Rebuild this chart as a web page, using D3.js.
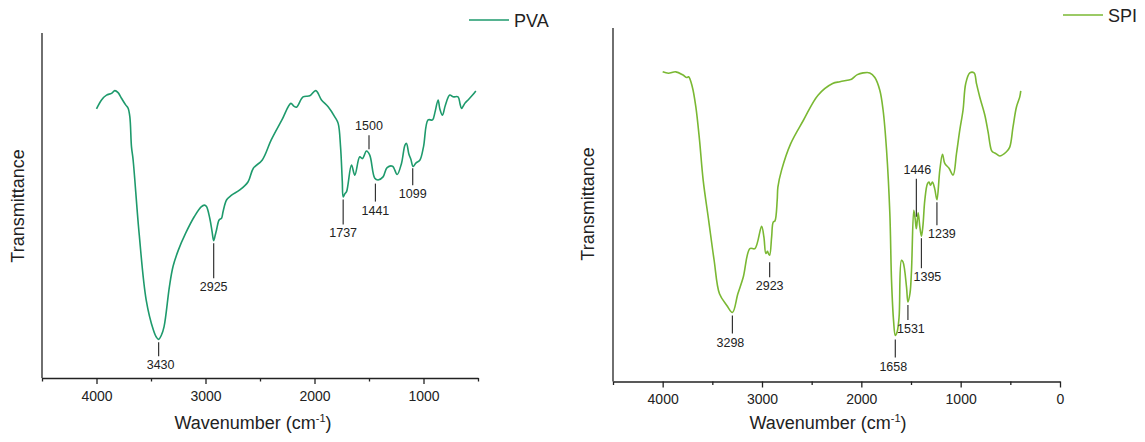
<!DOCTYPE html>
<html>
<head>
<meta charset="utf-8">
<script src="https://cdn.jsdelivr.net/npm/d3@7"></script>
<style>
  body { margin: 0; background: #fff; }
  svg { display: block; font-family: "Liberation Sans", Arial, sans-serif; }
</style>
</head>
<body>
<svg id="chart" width="1145" height="442"></svg>
<script>
// spectra: [wavenumber cm-1, transmittance (arbitrary %)]
var pvaData = [
  [4000,78.0],[3954,80.6],[3908,82.0],[3862,82.5],[3832,83.3],[3802,82.7],[3771,81.1],
  [3731,79.1],[3710,78.2],[3694,75.7],[3679,67.0],[3664,63.2],[3609,41.9],[3544,22.6],
  [3478,13.9],[3450,11.8],[3430,11.2],[3405,12.4],[3380,14.9],[3331,26.5],[3298,32.3],
  [3250,37.0],[3183,41.9],[3102,46.8],[3040,49.6],[3010,50.1],[2991,49.7],[2961,46.3],
  [2940,42.5],[2925,39.8],[2910,41.5],[2899,42.9],[2875,45.8],[2853,46.3],[2839,48.2],
  [2807,51.6],[2761,53.0],[2685,54.5],[2609,56.9],[2561,60.8],[2479,63.2],[2397,69.0],
  [2299,74.8],[2217,79.6],[2190,78.8],[2165,78.5],[2105,81.5],[2043,81.8],[1988,83.3],
  [1936,80.6],[1875,78.6],[1814,75.7],[1783,73.8],[1761,67.0],[1745,57.0],[1737,52.5],
  [1720,53.5],[1706,54.0],[1661,61.7],[1630,58.8],[1585,64.1],[1560,63.6],[1523,65.8],
  [1493,64.6],[1447,57.9],[1417,57.4],[1371,58.3],[1334,61.0],[1284,61.4],[1242,59.0],
  [1202,62.2],[1170,67.5],[1156,68.0],[1135,65.0],[1116,63.4],[1095,61.3],[1070,62.3],
  [1034,63.1],[1000,67.0],[958,74.8],[917,74.8],[895,77.0],[866,80.6],[850,78.0],
  [826,76.2],[800,79.0],[759,82.0],[728,81.5],[683,81.5],[665,79.5],[651,78.1],
  [621,79.6],[591,80.6],[550,82.0],[520,83.2]
];

var spiData = [
  [4000,87.6],[3942,87.2],[3868,87.6],[3795,86.7],[3758,86.0],[3739,86.2],[3702,83.4],
  [3666,77.7],[3629,68.3],[3592,56.9],[3537,45.6],[3482,34.3],[3428,24.8],[3354,21.5],
  [3298,19.5],[3243,24.8],[3189,29.5],[3122,37.6],[3071,37.6],[3004,43.9],[2981,40.9],
  [2961,36.2],[2945,36.8],[2938,36.4],[2923,35.7],[2903,40.9],[2887,45.1],[2870,45.4],
  [2847,51.3],[2840,55.0],[2803,59.8],[2711,67.3],[2583,73.9],[2436,81.0],[2289,84.3],
  [2216,84.8],[2124,85.3],[2099,85.5],[2040,86.8],[1982,87.3],[1915,87.3],[1864,86.0],
  [1814,82.4],[1781,76.8],[1746,65.4],[1713,47.5],[1696,28.6],[1675,17.0],[1658,13.0],
  [1640,14.0],[1620,18.2],[1596,34.3],[1580,33.8],[1545,26.7],[1531,22.5],[1510,25.0],
  [1495,31.4],[1472,48.4],[1458,46.0],[1446,43.2],[1428,47.7],[1410,43.5],[1395,41.1],
  [1380,44.0],[1361,51.3],[1334,56.0],[1318,56.4],[1304,55.5],[1284,56.4],[1261,54.5],
  [1239,51.4],[1210,59.8],[1183,64.3],[1160,61.7],[1117,60.3],[1076,58.4],[1042,64.5],
  [1009,71.1],[976,76.8],[949,84.3],[908,87.3],[865,87.3],[841,84.3],[808,80.5],
  [757,75.4],[724,70.6],[690,65.4],[670,64.8],[647,64.5],[607,63.8],[539,65.0],
  [506,66.3],[473,72.0],[439,77.6],[405,80.5],[395,82.2]
];

// labelled bands: [label, side]
var pvaPeaks = [["3430","below"],["2925","below"],["1737","below"],["1500","above"],["1441","below"],["1099","below"]];
var spiPeaks = [["3298","below"],["2923","below"],["1658","below"],["1531","below"],["1446","above"],["1395","below"],["1239","below"]];

var leftMajor = [4000,3000,2000,1000];
var leftMinor = [4500,3500,2500,1500,500];
var rightMajor = [4000,3000,2000,1000,0];
var rightMinor = [4500,3500,2500,1500,500];

// tick-line gap / length / label nudge for each annotation
var annLayout = {
  "3430": {gap:3, len:14, dx:2},  "2925": {gap:2.5, len:35, dx:0},
  "1737": {gap:2.5, len:25, dx:0}, "1500": {gap:5, len:14, dx:0},
  "1441": {gap:5, len:18, dx:0},  "1099": {gap:3, len:17, dx:0},
  "3298": {gap:3, len:18, dx:-2}, "2923": {gap:7, len:15, dx:0},
  "1658": {gap:4, len:18, dx:-2}, "1531": {gap:3, len:15, dx:3},
  "1446": {gap:12, len:38, dx:1}, "1395": {gap:2, len:30, dx:6},
  "1239": {gap:2.5, len:23, dx:5}
};

var svg = d3.select("#chart");

function valueAt(data, wn) {
  for (var i = 0; i < data.length - 1; i++) {
    var a = data[i], b = data[i+1];
    if (wn <= a[0] && wn >= b[0]) {
      var t = (a[0] - wn) / (a[0] - b[0]);
      return a[1] + t * (b[1] - a[1]);
    }
  }
  return data[data.length-1][1];
}

function drawPanel(cfg) {
  var x = d3.scaleLinear().domain(cfg.xDomain).range([cfg.x0, cfg.x1]);
  var y = d3.scaleLinear().domain([0, 100]).range([cfg.yBottom, cfg.yTop]);
  var g = svg.append("g");

  // y axis: bare line
  g.append("line")
    .attr("x1", cfg.x0).attr("x2", cfg.x0)
    .attr("y1", cfg.yTop).attr("y2", cfg.yBottom)
    .style("stroke", "#222").style("stroke-width", 1.3);

  var major = d3.axisBottom(x).tickValues(cfg.major).tickSize(6).tickSizeOuter(0)
    .tickPadding(7).tickFormat(d3.format("d"));
  var ax = g.append("g").attr("transform", "translate(0," + cfg.yBottom + ")").call(major);
  ax.select(".domain").style("stroke", "#222").style("stroke-width", 1.3);
  ax.selectAll(".tick line").style("stroke", "#222").style("stroke-width", 1.3);
  ax.selectAll(".tick text").style("font-size", "14px").style("fill", "#222")
    .style("font-family", "'Liberation Sans', Arial, sans-serif");

  var minor = d3.axisBottom(x).tickValues(cfg.minor).tickSize(3.5).tickSizeOuter(0).tickFormat("");
  var mx = g.append("g").attr("transform", "translate(0," + cfg.yBottom + ")").call(minor);
  mx.select(".domain").remove();
  mx.selectAll(".tick line").style("stroke", "#222").style("stroke-width", 1.3);

  // spectrum
  var line = d3.line().x(function(d){ return x(d[0]); }).y(function(d){ return y(d[1]); })
    .curve(d3.curveCatmullRom.alpha(0.5));
  g.append("path").datum(cfg.data)
    .attr("d", line)
    .style("fill", "none").style("stroke", cfg.color).style("stroke-width", 1.6);

  // band annotations
  cfg.peaks.forEach(function(p) {
    var wn = +p[0], L = annLayout[p[0]];
    var cx = x(wn), cy = y(valueAt(cfg.data, wn));
    var y1, y2, ty;
    if (p[1] == "below") {
      y1 = cy + L.gap; y2 = y1 + L.len; ty = y2 + 13;
    } else {
      y2 = cy - L.gap; y1 = y2 - L.len; ty = y1 - 5;
    }
    g.append("line").attr("x1", cx).attr("x2", cx).attr("y1", y1).attr("y2", y2)
      .style("stroke", "#333").style("stroke-width", 1.2);
    g.append("text").attr("x", cx + L.dx).attr("y", ty)
      .style("text-anchor", "middle").style("font-size", "12.5px").style("fill", "#222")
      .text(p[0]);
  });

  // axis titles
  g.append("text")
    .attr("transform", "translate(" + cfg.yTitleX + "," + cfg.yTitleY + ") rotate(-90)")
    .style("text-anchor", "middle").style("font-size", "18px").style("fill", "#222")
    .text("Transmittance");
  var xt = g.append("text").attr("x", cfg.xTitleX).attr("y", 429)
    .style("text-anchor", "middle").style("font-size", "18px").style("fill", "#222");
  xt.append("tspan").text("Wavenumber (cm");
  xt.append("tspan").attr("dy", -7).style("font-size", "11px").text("-1");
  xt.append("tspan").attr("dy", 7).text(")");

  // legend
  g.append("line").attr("x1", cfg.legX).attr("x2", cfg.legX + 40)
    .attr("y1", cfg.legY).attr("y2", cfg.legY)
    .style("stroke", cfg.color).style("stroke-width", 1.6);
  g.append("text").attr("x", cfg.legX + 45).attr("y", cfg.legY + 6.5)
    .style("font-size", "18px").style("fill", "#222").text(cfg.name);
}

drawPanel({
  name: "PVA", data: pvaData, peaks: pvaPeaks, color: "#1e9a6c",
  xDomain: [4500, 500], x0: 42, x1: 478, yTop: 33, yBottom: 378,
  major: leftMajor, minor: leftMinor,
  yTitleX: 24, yTitleY: 206, xTitleX: 253, legX: 469, legY: 20
});

drawPanel({
  name: "SPI", data: spiData, peaks: spiPeaks, color: "#7ab833",
  xDomain: [4500, 0], x0: 613, x1: 1060, yTop: 28, yBottom: 381.5,
  major: rightMajor, minor: rightMinor,
  yTitleX: 594, yTitleY: 204, xTitleX: 828, legX: 1063, legY: 15
});
</script>
</body>
</html>
